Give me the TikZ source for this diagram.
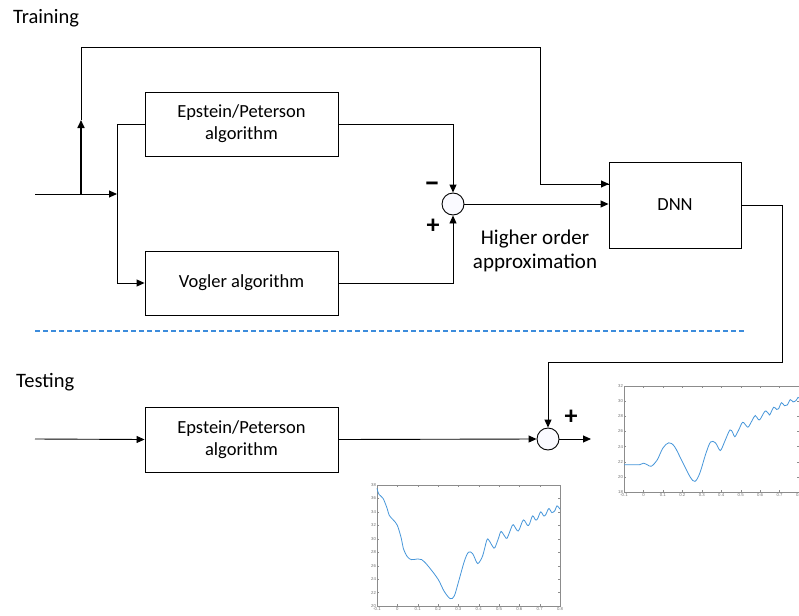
\documentclass[tikz,border=0pt]{standalone}
\usepackage{fontspec}
\setmainfont{Carlito}
\newfontfamily\plotfont{Liberation Sans}
\usetikzlibrary{arrows.meta}
\definecolor{dashblue}{RGB}{60,140,220}
\definecolor{curveblue}{RGB}{70,150,218}
\definecolor{axgray}{RGB}{140,140,140}
\tikzset{
  blockbox/.style={draw=black, line width=0.9pt, minimum width=193pt, minimum height=64pt, align=center, inner sep=0pt, font=\fontsize{18.5}{22}\selectfont},
  sumnode/.style={draw=black, line width=0.9pt, circle, minimum size=22pt, inner sep=0pt, fill=blue!2},
  conn/.style={line width=0.9pt},
  arr/.style={line width=0.9pt, -{Triangle[length=8pt,width=7pt]}},
  lbl/.style={font=\fontsize{20.5}{24}\selectfont, inner sep=0pt},
  hlbl/.style={font=\fontsize{21}{24}\selectfont, inner sep=0pt},
  sign/.style={font=\fontsize{26}{26}\selectfont\bfseries, inner sep=0pt},
  axbox/.style={draw=axgray, line width=0.4pt},
  ticklbl/.style={font=\plotfont\fontsize{4.3}{5}\selectfont, text=axgray!80!black, inner sep=0.8pt},
  curve/.style={draw=curveblue, line width=0.8pt}
}
\begin{document}
\begin{tikzpicture}[x=1pt,y=-1pt]
\useasboundingbox (0,0) rectangle (799,615);
% titles
\node[lbl, anchor=west] (train) at (13,18) {Training};
\node[lbl, anchor=west] (test) at (16,382) {Testing};
% blocks
\node[blockbox] (ep) at (241.5,124) {Epstein/Peterson\\algorithm};
\node[blockbox] (vo) at (241.5,283) {Vogler algorithm};
\node[blockbox, minimum width=132pt, minimum height=86pt] (dnn) at (675,205) {DNN};
\node[blockbox, minimum height=65pt] (ep2) at (241.5,439.5) {Epstein/Peterson\\algorithm};
\node[sumnode] (s1) at (453,204) {};
\node[sumnode] (s2) at (548,439) {};
% labels
\node[sign, font=\fontsize{32}{32}\selectfont\bfseries] (m1) at (432,187) {–};
\node[sign] (p1) at (433,226) {+};
\node[sign] (p2) at (571,417) {+};
\node[hlbl, align=center] (hoa) at (535,251) {Higher order\\approximation};
% coordinates
\coordinate (in1) at (35,194);
\coordinate (split) at (81,194);
\coordinate (j1) at (117,194);
\coordinate (up1) at (81,120);
\coordinate (top1) at (81,47);
\coordinate (top2) at (540,47);
\coordinate (dnnin) at (609,184);
\coordinate (r1) at (782,205);
\coordinate (r2) at (782,362);
\coordinate (r3) at (548,362);
\coordinate (in2) at (35,439);
\coordinate (out2) at (591,439);
% training connectors
\draw[arr] (in1) -- (j1);
\draw[line width=1.6pt, -{Triangle[length=8pt,width=7pt]}] (split) -- (up1);
\draw[conn] (up1) -- (top1) -- (top2) |- (dnnin) ;
\draw[arr] (top2 |- dnnin) -- (dnnin);
\draw[conn] (j1) |- (ep.west);
\draw[arr] (j1) |- (vo.west);
\draw[arr] (ep.east) -| (s1.north);
\draw[arr] (vo.east) -| (s1.south);
\draw[arr] (s1.east) -- (s1.east -| dnn.west);
% separator
\draw[dashblue, line width=1.1pt, dash pattern=on 5pt off 3pt] (35,331) -- (745,331);
% feedback
\draw[conn] (dnn.east) -- (r1) -- (r2) -- (r3);
\draw[arr] (r3) -- (s2.north);
% testing connectors
\draw[arr] (in2) -- (ep2.west);
\draw[arr] (ep2.east) -- (s2.west);
\draw[arr] (s2.east) -- (out2);
% plot 1
\begin{scope}[xshift=397.33pt, yshift=-740.44pt, x=203.33pt, y=6.722pt]
  \fill[white] (-0.1,20) rectangle (0.8,38);
  \foreach \t in {-0.1,0,0.1,0.2,0.3,0.4,0.5,0.6,0.7,0.8}{
    \draw[axgray, line width=0.3pt] (\t,20) -- ++(0,0.3) (\t,38) -- ++(0,-0.3);
    \node[ticklbl, anchor=north] at (\t,20) {\t};
  }
  \foreach \v in {20,22,...,38}{
    \draw[axgray, line width=0.3pt] (-0.1,\v) -- ++(0.009,0) (0.8,\v) -- ++(-0.009,0);
    \node[ticklbl, anchor=east] at (-0.1,\v) {\v};
  }
  \draw[axbox] (-0.1,20) rectangle (0.8,38);
  \draw[curve] plot[smooth, tension=0.55] coordinates {
   (-0.1,37.5) (-0.09,36.6) (-0.07,36.0) (-0.05,34.5) (-0.04,33.5) (-0.02,32.8) (0,32.0)
   (0.02,30) (0.03,28.5) (0.05,27.3) (0.07,26.9) (0.1,27.0) (0.12,26.9) (0.15,26.0)
   (0.2,24.0) (0.23,22.2) (0.26,21.1) (0.28,21.5) (0.3,23.5) (0.33,26.7) (0.35,28.0)
   (0.37,27.8) (0.39,26.5) (0.40,26.4) (0.42,27.5) (0.44,29.8) (0.45,29.8) (0.47,28.8)
   (0.48,28.7) (0.5,30.3) (0.51,31.1) (0.53,30.3) (0.54,30.1) (0.56,31.6) (0.57,32.1)
   (0.59,31.2) (0.6,31.4) (0.62,32.8) (0.64,32.0) (0.65,32.2) (0.665,33.4) (0.68,32.8)
   (0.69,33.0) (0.705,34.0) (0.72,33.4) (0.73,33.6) (0.745,34.5) (0.76,33.9) (0.775,34.2)
   (0.785,34.9) (0.8,34.4)};
\end{scope}
% plot 2
\begin{scope}[xshift=643.44pt, yshift=-628.28pt, x=194.44pt, y=7.571pt]
  \fill[white] (-0.1,18) rectangle (0.8,32);
  \foreach \t in {-0.1,0,0.1,0.2,0.3,0.4,0.5,0.6,0.7,0.8}{
    \draw[axgray, line width=0.3pt] (\t,18) -- ++(0,0.25) (\t,32) -- ++(0,-0.25);
    \node[ticklbl, anchor=north] at (\t,18) {\t};
  }
  \foreach \v in {18,20,...,32}{
    \draw[axgray, line width=0.3pt] (-0.1,\v) -- ++(0.009,0) (0.8,\v) -- ++(-0.009,0);
    \node[ticklbl, anchor=east] at (-0.1,\v) {\v};
  }
  \draw[axbox] (-0.1,18) rectangle (0.8,32);
  \draw[curve] plot[smooth, tension=0.55] coordinates {
   (-0.1,21.6) (-0.05,21.6) (-0.02,21.6) (0,21.8) (0.02,21.6) (0.04,21.4) (0.07,22.2)
   (0.1,23.8) (0.13,24.5) (0.16,24.0) (0.2,22.0) (0.24,20.0) (0.265,19.4) (0.29,20.5)
   (0.32,23.0) (0.345,24.6) (0.37,24.5) (0.39,23.6) (0.40,23.6) (0.42,24.8) (0.445,26.2)
   (0.46,25.8) (0.47,25.3) (0.49,26.2) (0.51,27.2) (0.53,26.7) (0.54,26.6) (0.56,27.5)
   (0.575,28.1) (0.59,27.6) (0.6,27.6) (0.62,28.5) (0.63,28.7) (0.645,28.3) (0.65,28.2)
   (0.67,29.2) (0.685,28.9) (0.695,29.0) (0.71,29.8) (0.725,29.4) (0.74,29.5) (0.755,30.2)
   (0.77,29.9) (0.785,30.1) (0.795,30.5) (0.8,30.4)};
\end{scope}
\end{tikzpicture}
\end{document}
